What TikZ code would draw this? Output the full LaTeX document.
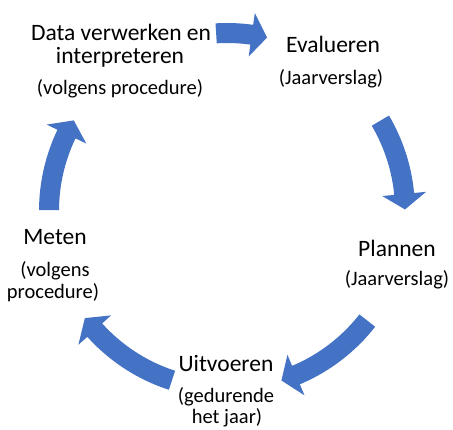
\documentclass[tikz,border=0pt]{standalone}
\usepackage{fontspec}
\setmainfont{Carlito}
\definecolor{cycleblue}{HTML}{4472C4}
\begin{document}
\begin{tikzpicture}[x=1pt,y=1pt,
  lbl/.style={inner sep=0pt, anchor=base, font=\fontsize{23.5}{28}\selectfont},
  sub/.style={inner sep=0pt, anchor=base, font=\fontsize{20.5}{24}\selectfont},
  cyc/.style={fill=cycleblue}]
\useasboundingbox (0,0) rectangle (453,429);
% labels
\node[lbl] (data1) at (121,388) {Data verwerken en};
\node[lbl] (data2) at (120,365) {interpreteren};
\node[sub] (data3) at (120,334) {(volgens procedure)};
\node[lbl] (eval1) at (333,376) {Evalueren};
\node[sub] (eval2) at (331,344) {(Jaarverslag)};
\node[lbl] (plan1) at (397,172) {Plannen};
\node[sub] (plan2) at (397,143) {(Jaarverslag)};
\node[lbl] (uit1) at (226,58) {Uitvoeren};
\node[sub] (uit2) at (226,27) {(gedurende};
\node[sub] (uit3) at (227,5.5) {het jaar)};
\node[lbl] (met1) at (55,184) {Meten};
\node[sub] (met2) at (55,152) {(volgens};
\node[sub] (met3) at (53,130) {procedure)};
% circular block arrows
\newcommand\cyclearrow[3]{%
  \fill[cyc] (#1:168pt) arc[start angle=#1, end angle=#2, radius=168pt]
    -- (#2:156pt) -- (#3:178pt) -- (#2:200pt) -- (#2:188pt)
    arc[start angle=#2, end angle=#1, radius=188pt] -- cycle;}
\begin{scope}[shift={(227,218)}]
  \cyclearrow{93.5}{82}{77}
  \cyclearrow{30.5}{5.5}{0.5}
  \cyclearrow{-38}{-67.2}{-72.2}
  \cyclearrow{-108}{-138}{-143}
  \cyclearrow{179.7}{154.4}{149.4}
\end{scope}
\end{tikzpicture}
\end{document}
